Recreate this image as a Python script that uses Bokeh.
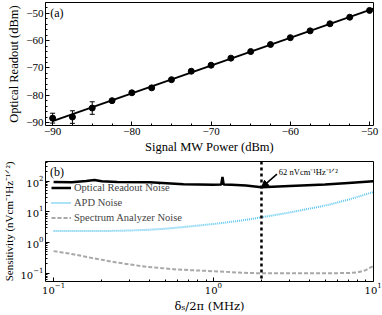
import numpy as np
from bokeh.plotting import figure
from bokeh.layouts import column
from bokeh.models import (FixedTicker, Whisker, ColumnDataSource, TeeHead, Span, Arrow,
                          NormalHead, Label, Legend, LegendItem, Range1d)
from bokeh.embed import file_html
from bokeh.resources import INLINE

# ---- panel (a) data ----
mw_power = [-90, -87.5, -85, -82.5, -80, -77.5, -75, -72.5, -70, -67.5, -65, -62.5, -60, -57.5, -55, -52.5, -50]
readout = [-88.4, -88.0, -84.7, -82.0, -79.1, -77.3, -74.3, -71.2, -69.0, -66.4, -64.0, -61.4, -58.9, -56.4, -53.8, -51.4, -48.9]
readout_err = [1.8, 2.3, 2.3, 0.4, 0.5, 0.5, 0.4, 0.3, 0.3, 0.3, 0.3, 0.3, 0.3, 0.3, 0.3, 0.3, 0.3]
fit_x = [-90, -49.5]
a_xticks = [-90, -80, -70, -60, -50]
a_yticks = [-90, -80, -70, -60, -50]

# ---- panel (b) data ----
freq_or = [0.1, 0.13, 0.16, 0.18, 0.2, 0.25, 0.4, 0.65, 1.0, 1.12, 1.14, 1.16, 1.3, 1.6, 2.0, 3.0, 5.0, 7.0, 10.0]
or_noise = [95, 93, 102, 110, 100, 94, 92, 80, 77, 78, 138, 78, 76, 72, 64, 70, 78, 88, 100]
freq_apd = [0.1, 0.2, 0.3, 0.4, 0.5, 0.7, 1.0, 1.5, 2.0, 3.0, 5.0, 7.0, 10.0]
apd_noise = [2.35, 2.35, 2.45, 2.6, 2.8, 3.3, 4.0, 5.2, 6.6, 9.5, 16, 25, 44]
freq_sa = [0.1, 0.13, 0.18, 0.25, 0.38, 0.6, 0.93, 1.5, 2.0, 4.0, 7.0, 8.0, 9.0, 10.0]
sa_noise = [0.52, 0.42, 0.30, 0.22, 0.16, 0.13, 0.117, 0.103, 0.098, 0.098, 0.1, 0.105, 0.125, 0.17]
marker_freq = 2.0
marker_val = 62
b_xticks = [0.1, 1, 10]
b_yticks = [0.1, 1, 10, 100]

FONT = "Liberation Serif, Times New Roman, Times, serif"
FONT2 = "DejaVu Serif"

def style(p):
    p.outline_line_color = "black"
    p.outline_line_width = 1
    p.xgrid.visible = False
    p.ygrid.visible = False
    p.background_fill_color = "white"
    p.border_fill_color = "white"
    for ax in (p.xaxis[0], p.yaxis[0]):
        ax.axis_line_color = None
        ax.major_tick_in = 4
        ax.major_tick_out = 0
        ax.minor_tick_in = 2
        ax.minor_tick_out = 0
        ax.major_tick_line_color = "black"
        ax.minor_tick_line_color = "black"
        ax.major_label_text_font = FONT
        ax.major_label_text_font_size = "11px"
        ax.major_label_text_color = "black"
        ax.axis_label_text_font = FONT
        ax.axis_label_text_font_size = "12.5px"
        ax.axis_label_text_font_style = "normal"
        ax.axis_label_text_color = "black"
        ax.major_label_standoff = 2
        ax.axis_label_standoff = 2

# ---- panel (a) ----
p1 = figure(width=382, height=156, output_backend="svg", toolbar_location=None,
            x_range=Range1d(-90.9, -49.5), y_range=Range1d(-91.1, -46.0),
            min_border_left=45, min_border_right=9, min_border_top=2, min_border_bottom=28)
style(p1)
p1.xaxis.ticker = FixedTicker(ticks=a_xticks, minor_ticks=list(np.arange(-90, -49, 2.5)))
p1.yaxis.ticker = FixedTicker(ticks=a_yticks, minor_ticks=list(range(-90, -45, 2)))
p1.xaxis.axis_label = "Signal MW Power (dBm)"
p1.yaxis.axis_label = "Optical Readout (dBm)"
p1.xaxis.major_label_overrides = {t: f"\u2212{abs(t)}" for t in a_xticks}
p1.yaxis.major_label_overrides = {t: f"\u2212{abs(t)}" for t in a_yticks}

slope, icpt = np.polyfit(mw_power, readout, 1)
fit_y = [slope * x + icpt for x in fit_x]
p1.line(fit_x, fit_y, line_color="black", line_width=2)

src = ColumnDataSource(dict(x=mw_power, y=readout,
                            lo=[r - e for r, e in zip(readout, readout_err)],
                            hi=[r + e for r, e in zip(readout, readout_err)]))
p1.add_layout(Whisker(source=src, base="x", lower="lo", upper="hi", line_color="black", line_width=1,
                      lower_head=TeeHead(size=5, line_color="black"),
                      upper_head=TeeHead(size=5, line_color="black")))
p1.scatter("x", "y", source=src, size=6, color="black")
p1.add_layout(Label(x=-90.3, y=-50, text="(a)", text_font=FONT, text_font_size="12px",
                    text_baseline="middle", text_color="black"))

# ---- panel (b) ----
p2 = figure(width=382, height=159, output_backend="svg", toolbar_location=None,
            x_axis_type="log", y_axis_type="log",
            x_range=Range1d(0.089, 10.05), y_range=Range1d(0.053, 440),
            min_border_left=45, min_border_right=9, min_border_top=5, min_border_bottom=28)
style(p2)
for ax in (p2.xaxis[0], p2.yaxis[0]):
    ax.major_label_text_font = FONT2
    ax.major_label_text_font_size = "10px"
p2.xaxis.major_label_standoff = 1
p2.xaxis.axis_label_standoff = 2
xminor = [m * 10.0 ** k for k in (-1, 0) for m in range(2, 10)]
yminor = [m * 10.0 ** k for k in (-2, -1, 0, 1, 2) for m in range(2, 10)]
p2.xaxis.ticker = FixedTicker(ticks=b_xticks, minor_ticks=xminor)
p2.yaxis.ticker = FixedTicker(ticks=b_yticks, minor_ticks=yminor)
p2.xaxis.axis_label = "\u03b4\u209b/2\u03c0 (MHz)"
p2.xaxis.axis_label_text_font = FONT2
p2.xaxis.axis_label_text_font_size = "11.5px"
p2.yaxis.axis_label = "Sensitivity (nVcm\u207b\u00b9Hz\u207b\u00b9\u141f\u00b2)"
p2.yaxis.axis_label_text_font_size = "11px"

r_or = p2.line(freq_or, or_noise, line_color="black", line_width=2.5)
r_apd = p2.line(freq_apd, apd_noise, line_color="#5BC6EE", line_width=2, line_dash="1 1")
r_sa = p2.line(freq_sa, sa_noise, line_color="#A8A8A8", line_width=2, line_dash="4 2")

p2.add_layout(Span(location=marker_freq, dimension="height", line_color="black",
                   line_width=2.5, line_dash="3 3"))
p2.add_layout(Arrow(end=NormalHead(size=7, fill_color="black", line_color="black"),
                    x_start=2.5, y_start=170, x_end=marker_freq, y_end=marker_val,
                    line_color="black", line_width=1.5))
p2.add_layout(Label(x=2.57, y=195, text="62 nVcm\u207b\u00b9Hz\u207b\u00b9\u141f\u00b2", text_font=FONT,
                    text_font_size="8.5px", text_baseline="middle", text_color="black"))
p2.add_layout(Label(x=0.095, y=200, text="(b)", text_font=FONT, text_font_size="12px",
                    text_baseline="middle", text_color="black"))

legend = Legend(items=[LegendItem(label="Optical Readout Noise", renderers=[r_or]),
                       LegendItem(label="APD Noise", renderers=[r_apd]),
                       LegendItem(label="Spectrum Analyzer Noise", renderers=[r_sa])],
                location=(6, 56), padding=2, margin=0, spacing=0,
                label_height=15, glyph_height=15, glyph_width=20, label_standoff=3,
                label_text_font=FONT, label_text_font_size="10.5px",
                background_fill_alpha=0, border_line_color=None)
p2.add_layout(legend)

layout = column(p1, p2, spacing=0)
open("out.html", "w").write(file_html(layout, INLINE))
